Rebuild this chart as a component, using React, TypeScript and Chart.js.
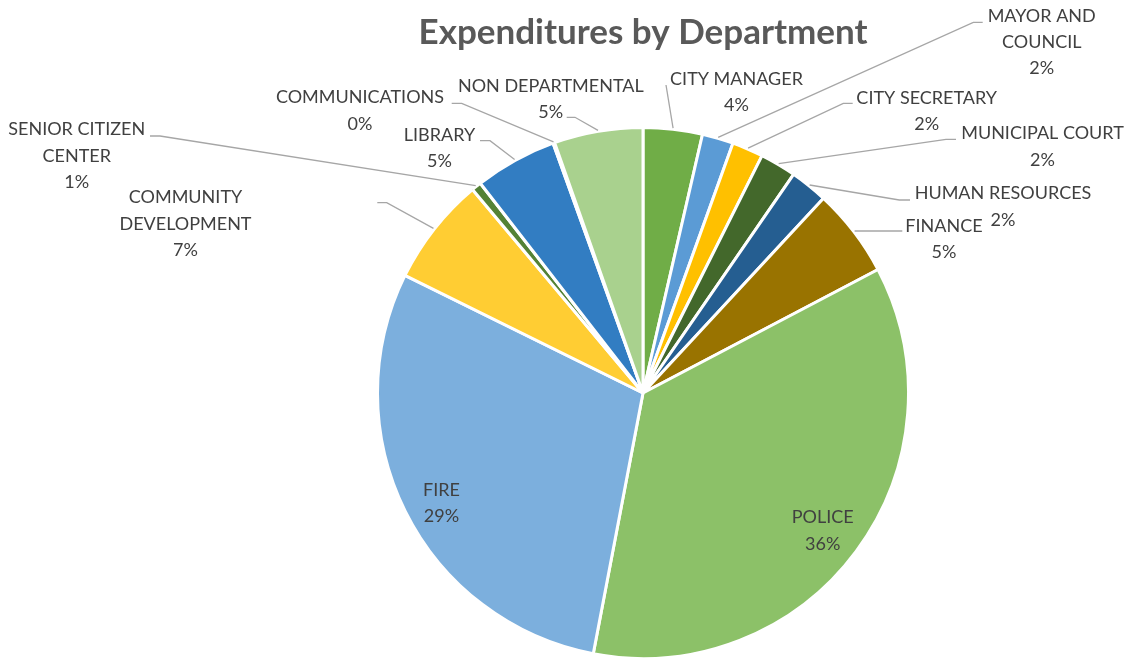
import React, { useEffect, useRef } from "react";
import { Chart, registerables } from "chart.js";

Chart.register(...registerables);

// ---- data ----
const DEPARTMENTS = [
  "CITY MANAGER",
  "MAYOR AND COUNCIL",
  "CITY SECRETARY",
  "MUNICIPAL COURT",
  "HUMAN RESOURCES",
  "FINANCE",
  "POLICE",
  "FIRE",
  "COMMUNITY DEVELOPMENT",
  "SENIOR CITIZEN CENTER",
  "LIBRARY",
  "COMMUNICATIONS",
  "NON DEPARTMENTAL",
];

// share of total expenditures (percent)
const EXPENDITURE_SHARE = [3.6, 1.9, 1.9, 2.2, 2.3, 5.4, 35.7, 29.3, 6.6, 0.6, 5.0, 0.1, 5.4];

// how each category name wraps in its label
const LABEL_LINES = [
  ["CITY MANAGER"],
  ["MAYOR AND", "COUNCIL"],
  ["CITY SECRETARY"],
  ["MUNICIPAL COURT"],
  ["HUMAN RESOURCES"],
  ["FINANCE"],
  ["POLICE"],
  ["FIRE"],
  ["COMMUNITY", "DEVELOPMENT"],
  ["SENIOR CITIZEN", "CENTER"],
  ["LIBRARY"],
  ["COMMUNICATIONS"],
  ["NON DEPARTMENTAL"],
];

const SLICE_COLORS = [
  "#70AD47",
  "#5B9BD5",
  "#FFC000",
  "#43682B",
  "#255E91",
  "#997300",
  "#8CC168",
  "#7CAFDD",
  "#FFCD33",
  "#548235",
  "#327DC2",
  "#CC9A06",
  "#A9D18E",
];

const TITLE = "Expenditures by Department";

// ---- label placement (offsets from the pie centre, px) ----
// t: centre of first text line; e: elbow of leader line; h: end of leader line (null = inside slice)
type LabelPlace = { t: [number, number]; e: [number, number] | null; h: [number, number] | null };
const LABEL_PLACES: LabelPlace[] = [
  { t: [93.5, -314], e: [23, -308], h: [23, -308] },
  { t: [398.7, -377.3], e: [330.3, -370.7], h: [339.7, -370.7] },
  { t: [283.7, -295.3], e: [200.3, -289.7], h: [209.7, -289.7] },
  { t: [399.5, -259.7], e: [303, -253.7], h: [313, -253.7] },
  { t: [360, -199.7], e: [256.3, -193], h: [267, -193] },
  { t: [301, -167], e: [259.3, -162], h: [259.3, -162] },
  { t: [179.7, 124.3], e: null, h: null },
  { t: [-201.5, 97], e: null, h: null },
  { t: [-457.5, -195.7], e: [-256.3, -190.3], h: [-265.7, -190.3] },
  { t: [-566.3, -263.7], e: [-483, -257], h: [-493, -257] },
  { t: [-203.5, -258], e: [-153, -252.3], h: [-163, -252.3] },
  { t: [-283, -295.7], e: [-181.3, -289.7], h: [-191.3, -289.7] },
  { t: [-92.2, -307], e: [-68, -275.7], h: [-76.3, -275.7] },
];

const LINE_STEP = 26.4;
const LABEL_FONT = "18px Lato";

const labelPlugin = {
  id: "sliceLabels",
  afterDatasetsDraw(chart: any) {
    const ctx = chart.ctx as CanvasRenderingContext2D;
    const meta = chart.getDatasetMeta(0);
    const values = chart.data.datasets[0].data as number[];
    const total = values.reduce((a, b) => a + b, 0);
    ctx.save();
    meta.data.forEach((arc: any, i: number) => {
      const p = arc.getProps(["x", "y", "startAngle", "endAngle", "outerRadius"], true);
      const place = LABEL_PLACES[i];
      const cx = p.x;
      const cy = p.y;
      if (place.e && place.h) {
        const mid = (p.startAngle + p.endAngle) / 2;
        const r = p.outerRadius + 1;
        ctx.beginPath();
        ctx.strokeStyle = "#A6A6A6";
        ctx.lineWidth = 1.3;
        ctx.moveTo(cx + Math.cos(mid) * r, cy + Math.sin(mid) * r);
        ctx.lineTo(cx + place.e[0], cy + place.e[1]);
        ctx.lineTo(cx + place.h[0], cy + place.h[1]);
        ctx.stroke();
      }
      const pct = Math.round((values[i] / total) * 100) + "%";
      const lines = [...LABEL_LINES[i], pct];
      ctx.fillStyle = "#404040";
      ctx.font = LABEL_FONT;
      ctx.textAlign = "center";
      ctx.textBaseline = "middle";
      lines.forEach((ln, k) => {
        ctx.fillText(ln, cx + place.t[0], cy + place.t[1] + k * LINE_STEP);
      });
    });
    ctx.restore();
  },
};

export default function App() {
  const ref = useRef<HTMLCanvasElement | null>(null);
  useEffect(() => {
    if (!ref.current) return;
    const chart = new Chart(ref.current, {
      type: "pie",
      data: {
        labels: DEPARTMENTS,
        datasets: [
          {
            data: EXPENDITURE_SHARE,
            backgroundColor: SLICE_COLORS,
            borderColor: "#FFFFFF",
            borderWidth: 3,
          },
        ],
      },
      options: {
        responsive: false,
        animation: false,
        radius: 265.5,
        layout: { padding: { left: 300, right: 144, top: 0, bottom: 1 } },
        plugins: {
          legend: { display: false },
          tooltip: { enabled: false },
          title: {
            display: true,
            text: TITLE,
            color: "#595959",
            font: { family: "Lato", size: 35, weight: "bold" },
            padding: { top: 12, bottom: 75 },
          },
        },
      },
      plugins: [labelPlugin],
    });
    return () => chart.destroy();
  }, []);
  return (
    <div style={{ position: "absolute", left: 0, top: 0, width: 1130, height: 658, background: "#FFFFFF" }}>
      <canvas ref={ref} width={1130} height={658} />
    </div>
  );
}
